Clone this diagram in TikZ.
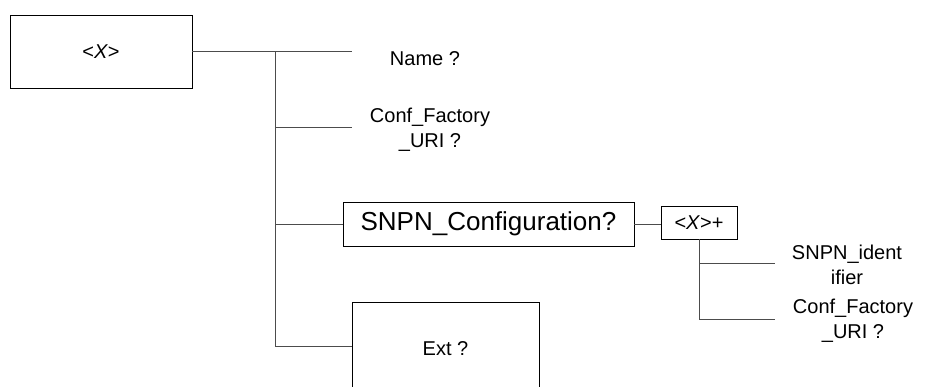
\documentclass[tikz,border=0pt]{standalone}
\usepackage{fontspec}
\setmainfont{Liberation Sans}
\begin{document}
\begin{tikzpicture}[x=1pt,y=-1pt,
  box/.style={draw=black, line width=0.9pt, inner sep=0pt, font=\fontsize{20}{25}\selectfont},
  conn/.style={draw=black!70, line width=0.9pt},
  lbl/.style={align=center, inner sep=0pt, font=\fontsize{20}{25}\selectfont}]
\useasboundingbox (0,0) rectangle (925,387);
% boxes
\node[box, minimum width=182, minimum height=73] (root) at (101,51.5) {<\textit{X}>};
\node[box, minimum width=291, minimum height=44, font=\fontsize{26}{30}\selectfont] (snpn) at (488.5,224) {SNPN\_Configuration?};
\node[box, minimum width=76, minimum height=33] (xplus) at (699,222.5) {<\textit{X}>+};
\node[box, minimum width=187, minimum height=88] (ext) at (445.5,346) {};
\node[lbl] (extlbl) at (445.5,349) {Ext ?};
% labels
\node[lbl] (name) at (425,59) {Name ?};
\node[lbl] (conf1) at (430,129.5) {Conf\_Factory\\\_URI ?};
\node[lbl] (snpnid) at (847,265) {SNPN\_ident\\ifier};
\node[lbl] (conf2) at (853,321) {Conf\_Factory\\\_URI ?};
% coordinates
\coordinate (tTop) at (275,51.5);
\coordinate (tC) at (275,127);
\coordinate (tS) at (275,224);
\coordinate (tE) at (275,346);
\coordinate (nameEnd) at (352,51.5);
\coordinate (confEnd) at (352,127);
\coordinate (s1) at (699,263);
\coordinate (s2) at (699,319);
\coordinate (idEnd) at (775,263);
\coordinate (conf2End) at (775,319);
% connectors
\draw[conn] (root.east) -- (nameEnd);
\draw[conn] (tTop) -- (tE);
\draw[conn] (tC) -- (confEnd);
\draw[conn] (tS) -- (snpn.west);
\draw[conn] (tE) -- (ext.west);
\draw[conn] (snpn.east) -- (snpn.east -| xplus.west);
\draw[conn] (xplus.south) -- (s2);
\draw[conn] (s1) -- (idEnd);
\draw[conn] (s2) -- (conf2End);
\end{tikzpicture}
\end{document}
